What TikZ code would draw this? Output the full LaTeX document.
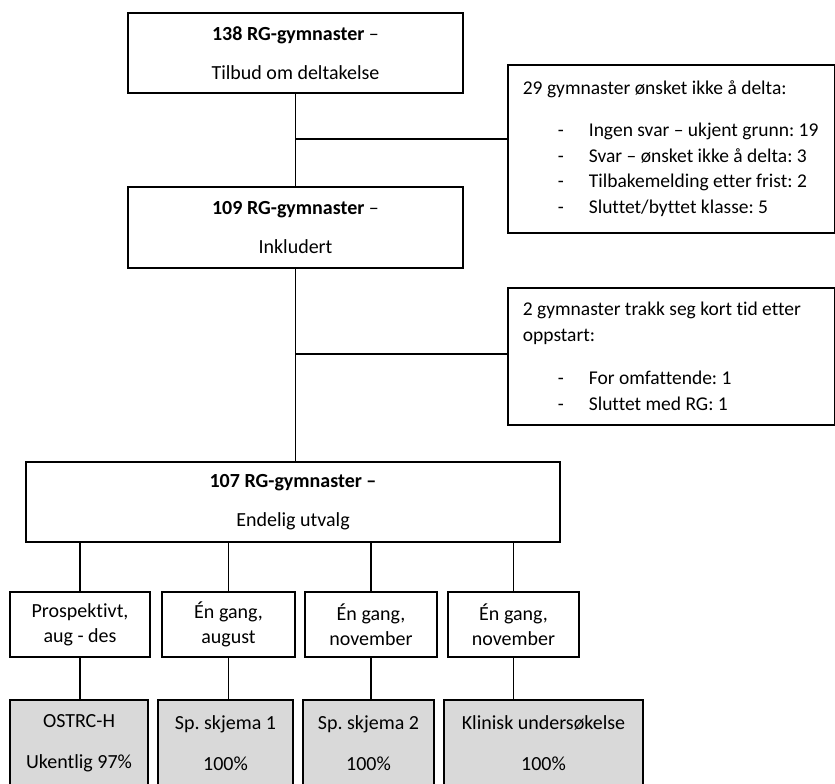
\documentclass[tikz,border=0pt]{standalone}
\usepackage{fontspec}
\setmainfont[Ligatures=NoCommon]{Carlito}
\usetikzlibrary{calc}

\newcommand{\strekpunkt}[1]{\hspace*{42.5pt}\makebox[31pt][l]{-}#1}

\begin{document}
\begin{tikzpicture}[x=1pt,y=-1pt,line width=1.7pt,
	boks/.style={draw,inner sep=0pt,align=center,font=\fontsize{20}{24}\selectfont\frenchspacing},
	infoboks/.style={draw,anchor=north west,inner xsep=7.5pt,inner ysep=0pt,align=flush left,text width=312pt,font=\fontsize{19.5}{25.5}\selectfont\frenchspacing},
	graboks/.style={boks,fill=black!15}]
	\useasboundingbox (0,0) rectangle (835,784);
	%\draw[help lines,step=50] (0,0) grid (835,784);
	%HOVEDBOKSER
	\node[boks,minimum width=335pt,minimum height=80pt] (tilbud) at (295.5,53) {\textbf{138 RG-gymnaster} –\\[15pt]Tilbud om deltakelse};
	\node[boks,minimum width=335pt,minimum height=81pt] (inkl) at (295.5,227.5) {\textbf{109 RG-gymnaster} –\\[15pt]Inkludert};
	\node[boks,minimum width=534pt,minimum height=80pt] (utvalg) at (293,502) {\textbf{107 RG-gymnaster –}\\[15pt]Endelig utvalg};
	%FRAFALL
	\node[infoboks,minimum height=168pt] (frafall1) at (507,64) {\hspace*{7.5pt}29 gymnaster ønsket ikke å delta:\\[16.5pt]
		\strekpunkt{Ingen svar – ukjent grunn: 19}\\
		\strekpunkt{Svar – ønsket ikke å delta: 3}\\
		\strekpunkt{Tilbakemelding etter frist: 2}\\
		\strekpunkt{Sluttet/byttet klasse: 5}};
	\node[infoboks,minimum height=137pt] (frafall2) at (507,287) {\hspace*{7.5pt}2 gymnaster trakk seg kort tid etter\\\hspace*{7.5pt}oppstart:\\[18pt]
		\strekpunkt{For omfattende: 1}\\
		\strekpunkt{Sluttet med RG: 1}};
	%TIDSPUNKT
	\node[boks,minimum width=140pt,minimum height=65pt] (prosp) at (80,624.5) {Prospektivt,\\[1pt]aug - des};
	\node[boks,minimum width=133pt,minimum height=65pt] (aug) at (228.5,624.5) {Én gang,\\[1pt]august};
	\node[boks,minimum width=132pt,minimum height=65pt] (nov1) at (371,624.5) {Én gang,\\[1pt]november};
	\node[boks,minimum width=131pt,minimum height=65pt] (nov2) at (513.5,624.5) {Én gang,\\[1pt]november};
	%MAALINGER
	\node[graboks,minimum width=138pt,minimum height=86pt] (ostrc) at (79,743) {OSTRC-H\\[17pt]Ukentlig 97\%};
	\node[graboks,minimum width=135pt,minimum height=86pt] (skjema1) at (225.5,743) {Sp. skjema 1\\[17pt]100\%};
	\node[graboks,minimum width=131pt,minimum height=86pt] (skjema2) at (368.5,743) {Sp. skjema 2\\[17pt]100\%};
	\node[graboks,minimum width=199pt,minimum height=86pt] (klinisk) at (543.5,743) {Klinisk undersøkelse\\[17pt]100\%};
	%LINJER
	\draw (tilbud.south) -- (inkl.north);
	\draw (inkl.south) -- (inkl.south |- utvalg.north);
	\coordinate (gren1) at (295.5,139);
	\coordinate (gren2) at (295.5,354);
	\draw (gren1) -- (gren1 -| frafall1.west);
	\draw (gren2) -- (gren2 -| frafall2.west);
	\foreach \tid/\maal in {prosp/ostrc,aug/skjema1,nov1/skjema2,nov2/klinisk}{
		\draw (\tid.north) -- (\tid.north |- utvalg.south);
		\draw (\tid.south) -- (\tid.south |- \maal.north);
	}
\end{tikzpicture}
\end{document}
